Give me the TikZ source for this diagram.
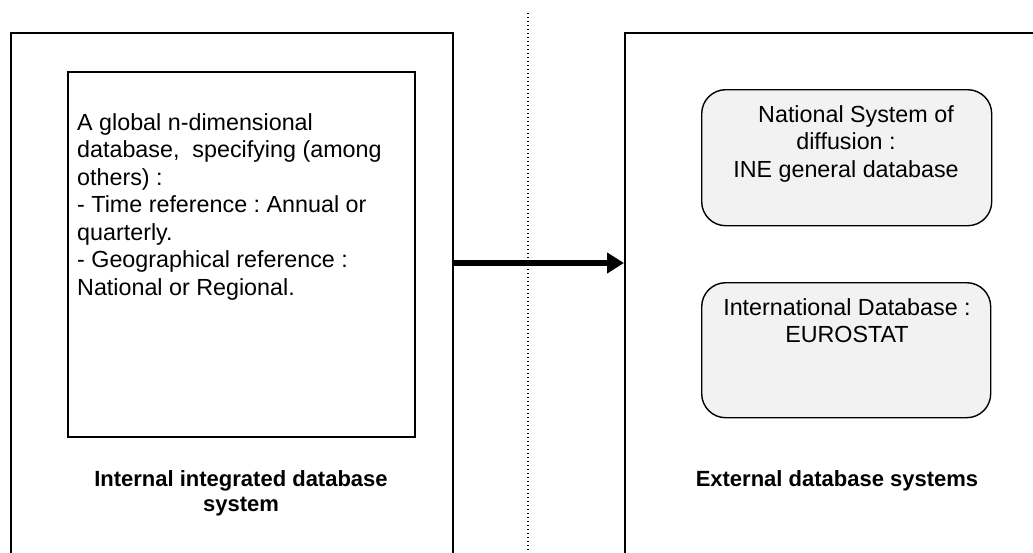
\documentclass[tikz,border=0pt]{standalone}
\usepackage{fontspec}
\setmainfont{Liberation Sans}
\usetikzlibrary{arrows.meta}
\definecolor{boxgray}{HTML}{F2F2F2}
\frenchspacing
\begin{document}
\begin{tikzpicture}[x=1pt,y=-1pt,
  frame/.style={draw, line width=1.7pt, inner sep=0pt, anchor=north west},
  dbbox/.style={draw, line width=1.4pt, rounded corners=24pt, fill=boxgray,
    inner sep=0pt, anchor=north west},
  body/.style={font=\fontsize{23.3}{27.5}\selectfont, inner sep=0pt},
  caption/.style={font=\bfseries\fontsize{22}{25}\selectfont, align=center, inner sep=0pt},
  flow/.style={line width=5.5pt, -{Triangle[length=17pt,width=20pt]}},
  divider/.style={line width=1.2pt, dash pattern=on 1.2pt off 2.8pt},
]
\useasboundingbox (0,0) rectangle (1033,552);
\clip (0,0) rectangle (1033,552);

% dividing line between the two sides
\coordinate (divtop) at (528,13);
\coordinate (divbot) at (528,552);
\draw[divider] (divtop) -- (divbot);

% internal side
\node[frame, minimum width=442pt, minimum height=560pt] (internal) at (10,32) {};
\node[frame, minimum width=347pt, minimum height=365pt] (inner) at (67,71) {};
\node[body, anchor=north west, align=left] (spec) at (77,113)
  {A global n-dimensional\\database,\ \ specifying (among\\others) :\\- Time reference : Annual or\\quarterly.\\- Geographical reference :\\National or Regional.};
\node[caption, anchor=north] (intcap) at (241,470) {Internal integrated database\\system};

% external side
\node[frame, minimum width=440pt, minimum height=560pt] (external) at (624,32) {};
\node[dbbox, minimum width=290pt, minimum height=136pt] (national) at (701,89) {};
\node[body, align=center, anchor=north] (nattext) at (846,105)
  {\hspace*{20pt}National System of\\diffusion :\\INE general database};
\node[dbbox, minimum width=289pt, minimum height=135pt] (intl) at (701,282) {};
\node[body, align=center, anchor=north] (intltext) at (847,298)
  {International Database :\\EUROSTAT};
\node[caption, anchor=north] (extcap) at (837,470) {External database systems};

% data flow
\coordinate (flowy) at (0,263);
\draw[flow] (internal.east |- flowy) -- (external.west |- flowy);
\end{tikzpicture}
\end{document}
